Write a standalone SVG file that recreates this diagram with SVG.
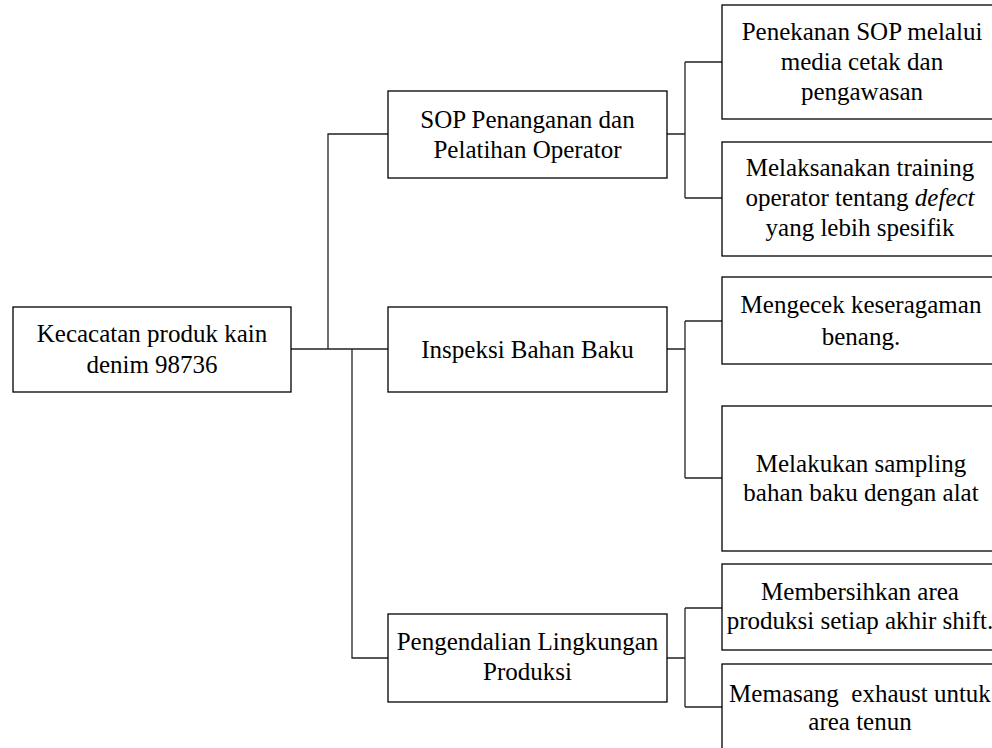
<svg xmlns="http://www.w3.org/2000/svg" width="992" height="748" viewBox="0 0 992 748">
<style>
.box{fill:#fff;stroke:#000;stroke-width:1.3}
.conn{fill:none;stroke:#222;stroke-width:1.3}
text{font-family:"Liberation Serif","Times New Roman",serif;font-size:25px;fill:#000;text-anchor:middle}
</style>
<rect width="992" height="748" fill="#fff"/>
<g id="connectors">
<path class="conn" d="M291,349H388M328,349V134H388M352,349V658H388"/>
<path class="conn" d="M667,134H685M685,62V198M685,62H722M685,198H722"/>
<path class="conn" d="M667,349H685M685,321V478M685,321H722M685,478H722"/>
<path class="conn" d="M667,658H685M685,608V707M685,608H722M685,707H722"/>
</g>
<g id="root">
<rect class="box" x="13" y="307" width="278" height="85"/>
<text x="152" y="342">Kecacatan produk kain</text>
<text x="152" y="373">denim 98736</text>
</g>
<g id="sop">
<rect class="box" x="388" y="91" width="279" height="87"/>
<text x="527.5" y="128">SOP Penanganan dan</text>
<text x="527.5" y="158">Pelatihan Operator</text>
</g>
<g id="inspeksi">
<rect class="box" x="388" y="307" width="279" height="85"/>
<text x="527.5" y="358">Inspeksi Bahan Baku</text>
</g>
<g id="pengendalian">
<rect class="box" x="388" y="614" width="279" height="88"/>
<text x="527.5" y="650">Pengendalian Lingkungan</text>
<text x="527.5" y="680">Produksi</text>
</g>
<g id="penekanan">
<rect class="box" x="722" y="5" width="280" height="114"/>
<text x="862" y="40">Penekanan SOP melalui</text>
<text x="862" y="70">media cetak dan</text>
<text x="862" y="100">pengawasan</text>
</g>
<g id="training">
<rect class="box" x="722" y="142" width="280" height="114"/>
<text x="860" y="176">Melaksanakan training</text>
<text x="860" y="206">operator tentang <tspan font-style="italic">defect</tspan></text>
<text x="860" y="236">yang lebih spesifik</text>
</g>
<g id="mengecek">
<rect class="box" x="722" y="277" width="280" height="87"/>
<text x="861" y="313">Mengecek keseragaman</text>
<text x="861" y="345">benang.</text>
</g>
<g id="sampling">
<rect class="box" x="722" y="406" width="280" height="145"/>
<text x="861" y="472">Melakukan sampling</text>
<text x="861" y="501">bahan baku dengan alat</text>
</g>
<g id="membersihkan">
<rect class="box" x="722" y="564" width="280" height="86"/>
<text x="860" y="600">Membersihkan area</text>
<text x="860" y="629">produksi setiap akhir shift.</text>
</g>
<g id="memasang">
<rect class="box" x="722" y="664" width="280" height="100"/>
<text x="860" y="702" xml:space="preserve">Memasang  exhaust untuk</text>
<text x="860" y="730">area tenun</text>
</g>
</svg>
